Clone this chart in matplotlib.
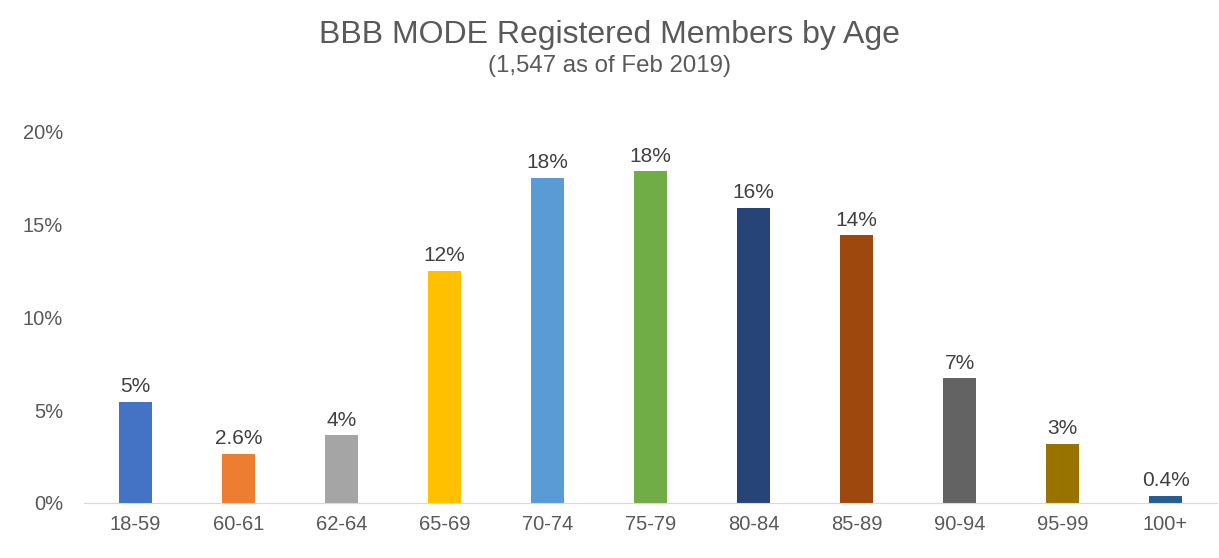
import matplotlib
matplotlib.use("Agg")
from matplotlib import pyplot as plt
import numpy as np

ages = ["18-59", "60-61", "62-64", "65-69", "70-74", "75-79",
        "80-84", "85-89", "90-94", "95-99", "100+"]
pct = [5.45, 2.65, 3.65, 12.5, 17.5, 17.85, 15.9, 14.4, 6.7, 3.2, 0.4]
labels = ["5%", "2.6%", "4%", "12%", "18%", "18%", "16%", "14%", "7%", "3%", "0.4%"]
colors = ["#4472C4", "#ED7D31", "#A5A5A5", "#FFC000", "#5B9BD5", "#70AD47",
          "#264478", "#9E480E", "#636363", "#997300", "#255E91"]

plt.rcParams['font.family'] = ['Liberation Sans', 'DejaVu Sans']

fig = plt.figure(figsize=(12.19, 5.58), dpi=100)
ax = fig.add_axes([0.0689, 0.0986, 0.9295, 0.666])

x = np.arange(len(ages))
bars = ax.bar(x, pct, width=0.32, color=colors)
for b, lab in zip(bars, labels):
    ax.annotate(lab, (b.get_x() + b.get_width() / 2, b.get_height()),
                xytext=(0, 4), textcoords="offset points",
                ha="center", va="bottom", fontsize=15, color="#404040")

ax.set_xlim(-0.5, len(ages) - 0.5)
ax.set_ylim(0, 20)
ax.set_yticks([0, 5, 10, 15, 20])
ax.set_yticklabels(["0%", "5%", "10%", "15%", "20%"])
ax.set_xticks(x)
ax.set_xticklabels(ages)
ax.tick_params(axis="both", length=0, labelsize=14.5, labelcolor="#595959")
ax.tick_params(axis="y", pad=15)
ax.tick_params(axis="x", pad=9)
for s in ["top", "right", "left"]:
    ax.spines[s].set_visible(False)
ax.spines["bottom"].set_color("#D9D9D9")

fig.text(0.5, 0.938, "BBB MODE Registered Members by Age", ha="center", va="center",
         fontsize=23, color="#595959")
fig.text(0.5, 0.881, "(1,547 as of Feb 2019)", ha="center", va="center",
         fontsize=17.3, color="#595959")

fig.savefig("out.png", dpi=100)
